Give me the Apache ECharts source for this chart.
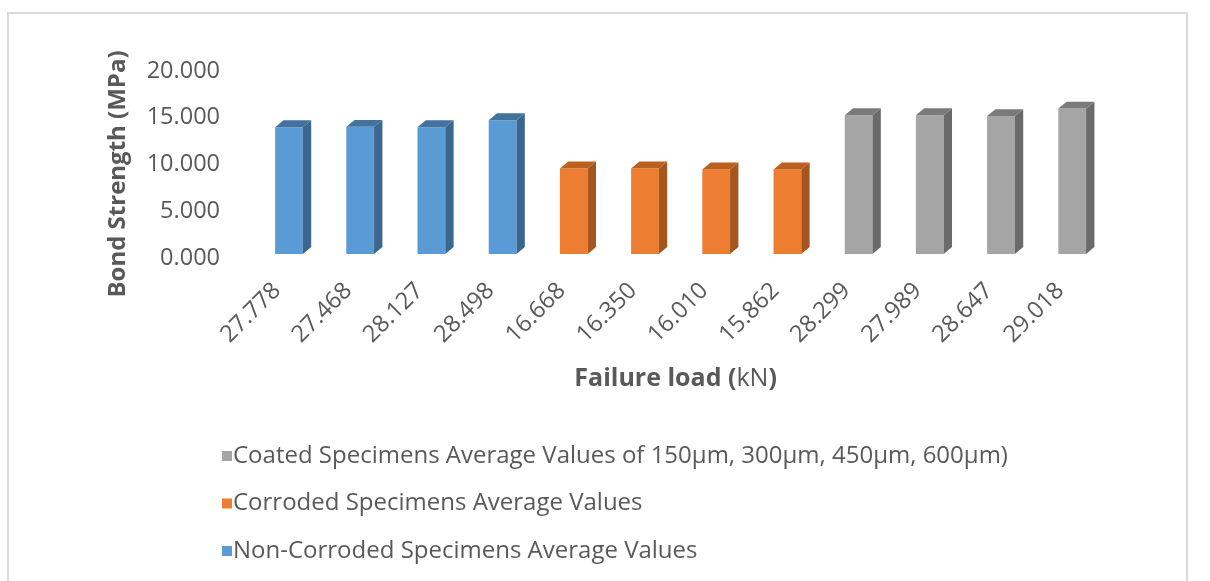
<!DOCTYPE html>
<html>
<head>
<meta charset="utf-8">
<script src="https://cdn.jsdelivr.net/npm/echarts@6/dist/echarts.min.js"></script>
<style>
  html, body { margin: 0; padding: 0; background: #ffffff; }
  #chart { width: 1210px; height: 581px; }
</style>
</head>
<body>
<div id="chart"></div>
<script>
// Failure loads (kN) used as category labels
const categories = ['27.778', '27.468', '28.127', '28.498', '16.668', '16.350', '16.010', '15.862', '28.299', '27.989', '28.647', '29.018'];

// Bond strength (MPa) per specimen group
const nonCorroded = [13.55, 13.6, 13.55, 14.3];
const corroded = [9.15, 9.15, 9.05, 9.05];
const coated = [14.85, 14.85, 14.75, 15.55];

// Value-axis ticks
const yTicks = [0, 5, 10, 15, 20];

const seriesNames = [
  'Non-Corroded Specimens Average Values',
  'Corroded Specimens Average Values',
  'Coated Specimens Average Values of 150\u00b5m, 300\u00b5m, 450\u00b5m, 600\u00b5m)'
];

const FONT = '"Open Sans", "Noto Sans", sans-serif';
const TEXT = '#595959';
const SIZE = 23.5;

// front / side / top face colours of each group
const palettes = [
  { front: '#5B9BD5', side: '#3A6690', top: '#43729F' },
  { front: '#ED7D31', side: '#A5561F', top: '#BC601E' },
  { front: '#A5A5A5', side: '#6A6A6A', top: '#7A7A7A' }
];

// place each group's values on its own run of categories
function placed(values, offset) {
  return values.map((v, i) => [offset + i, v]);
}
const groups = [
  placed(nonCorroded, 0),
  placed(corroded, nonCorroded.length),
  placed(coated, nonCorroded.length + corroded.length)
];

// extruded column: front rectangle, right side face, top face
function makeRenderer(pal) {
  return function (params, api) {
    const x = api.value(0);
    const v = api.value(1);
    const base = api.coord([x, 0]);
    const top = api.coord([x, v]);
    const band = api.size([1, 0])[0];
    const w = band * 0.39;
    const dx = w * 0.3;
    const dy = w * 0.25;
    const l = base[0] - w / 2;
    const r = base[0] + w / 2;
    return {
      type: 'group',
      children: [
        {
          type: 'rect',
          shape: { x: l, y: top[1], width: w, height: base[1] - top[1] },
          style: { fill: pal.front }
        },
        {
          type: 'polygon',
          shape: { points: [[r, top[1]], [r + dx, top[1] - dy], [r + dx, base[1] - dy], [r, base[1]]] },
          style: { fill: pal.side }
        },
        {
          type: 'polygon',
          shape: { points: [[l, top[1]], [l + dx, top[1] - dy], [r + dx, top[1] - dy], [r, top[1]]] },
          style: { fill: pal.top }
        }
      ]
    };
  };
}

const chart = echarts.init(document.getElementById('chart'), null, { renderer: 'canvas' });

const option = {
  backgroundColor: '#ffffff',
  animation: false,
  graphic: [
    {
      type: 'rect',
      shape: { x: 8, y: 13, width: 1179, height: 620 },
      style: { fill: 'none', stroke: '#D9D9D9', lineWidth: 2 },
      silent: true
    },
    {
      type: 'text',
      x: 118,
      y: 174,
      rotation: Math.PI / 2,
      style: {
        text: 'Bond Strength (MPa)',
        fill: TEXT,
        font: 'bold 24px ' + FONT,
        align: 'center',
        verticalAlign: 'middle'
      }
    }
  ],
  legend: {
    orient: 'vertical',
    left: 217,
    top: 439,
    itemWidth: 10,
    itemHeight: 10,
    itemGap: 23.5,
    icon: 'rect',
    data: [seriesNames[2], seriesNames[1], seriesNames[0]],
    textStyle: { color: TEXT, fontFamily: FONT, fontSize: 24, lineHeight: 24, padding: [0, 0, 0, -4] }
  },
  grid: [
    // columns
    { left: 253.4, width: 854.4, top: 67, height: 187 },
    // tick labels of both axes
    { left: 241.4, width: 854.4, top: 71, height: 187 }
  ],
  xAxis: [
    {
      type: 'category',
      gridIndex: 0,
      data: categories,
      show: false
    },
    {
      type: 'category',
      gridIndex: 1,
      data: categories,
      axisLine: { show: false },
      axisTick: { show: false },
      axisLabel: {
        rotate: 45,
        margin: 29,
        color: TEXT,
        fontFamily: FONT,
        fontSize: SIZE,
        interval: 0
      },
      name: '{b|Failure load (}{n|kN}{b|)}',
      nameLocation: 'middle',
      nameGap: 108,
      nameTextStyle: {
        padding: [0, 0, 0, 14],
        rich: {
          b: { color: TEXT, fontFamily: FONT, fontSize: 25, fontWeight: 'bold' },
          n: { color: TEXT, fontFamily: FONT, fontSize: 25, fontWeight: 'normal' }
        }
      }
    }
  ],
  yAxis: [
    {
      type: 'value',
      gridIndex: 0,
      min: 0,
      max: 20,
      interval: 5,
      show: false
    },
    {
      type: 'value',
      gridIndex: 1,
      min: yTicks[0],
      max: yTicks[yTicks.length - 1],
      interval: 5,
      axisLine: { show: false },
      axisTick: { show: false },
      splitLine: { show: false },
      axisLabel: {
        margin: 21.4,
        color: TEXT,
        fontFamily: FONT,
        fontSize: SIZE,
        formatter: (v) => v.toFixed(3)
      }
    }
  ],
  series: groups.map((data, i) => ({
    name: seriesNames[i],
    type: 'custom',
    xAxisIndex: 0,
    yAxisIndex: 0,
    itemStyle: { color: palettes[i].front },
    renderItem: makeRenderer(palettes[i]),
    encode: { x: 0, y: 1 },
    data: data
  }))
};

chart.setOption(option);
</script>
</body>
</html>
